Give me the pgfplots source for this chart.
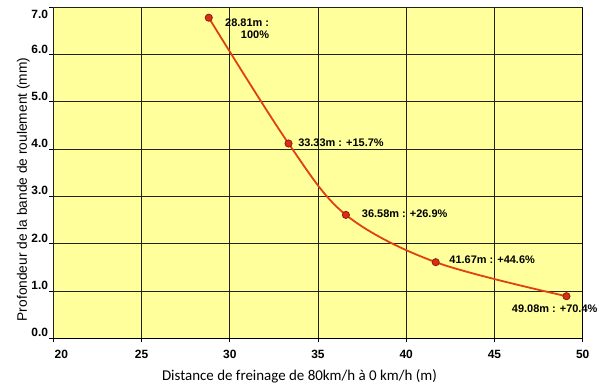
\documentclass[border=0pt]{standalone}
\usepackage{pgfplots}
\pgfplotsset{compat=1.18}
\usepackage{fontspec}
\setmainfont{Liberation Sans}
\newfontfamily\calibri{Carlito}
\definecolor{bgy}{RGB}{255,255,156}
\definecolor{curve}{RGB}{225,65,15}
\definecolor{mfill}{RGB}{220,45,20}
\definecolor{mdraw}{RGB}{140,30,10}
\definecolor{gridc}{RGB}{35,35,20}
\begin{document}
\begin{tikzpicture}
\path[use as bounding box] (-53.3bp,-47.7bp) rectangle (553.7bp,338.3bp);
\begin{axis}[
  scale only axis, width=529.4bp, height=331bp,
  xmin=20, xmax=50, ymin=0, ymax=7,
  xtick={25,30,...,50}, ytick={0,1,...,6},
  extra x ticks={20}, extra y ticks={7},
  extra x tick style={xticklabel style={xshift=8bp}},
  extra y tick style={yticklabel style={anchor=north east, yshift=-1bp}},
  axis background/.style={fill=bgy},
  grid=major, grid style={gridc, line width=1bp},
  axis line style={black, line width=1bp},
  tick align=outside, tick pos=left, major tick length=4bp,
  tick style={black, line width=0.8bp},
  /pgf/number format/assume math mode=true,
  yticklabel style={/pgf/number format/.cd, fixed, fixed zerofill, precision=1, /tikz/.cd, font=\bfseries\fontsize{12}{14}\selectfont, anchor=base east, inner xsep=1bp, yshift=1.5bp},
  xticklabel style={font=\bfseries\fontsize{12}{14}\selectfont, yshift=-4bp},
  clip=false,
  xlabel={\calibri\fontsize{15}{18}\selectfont Distance de freinage de 80km/h à 0 km/h (m)},
  ylabel={\fontsize{13.8}{16}\selectfont Profondeur de la bande de roulement (mm)},
  xlabel style={at={(axis description cs:0.465,0)}, anchor=north, yshift=-28bp},
  ylabel style={at={(axis description cs:0,0.45)}, anchor=south, yshift=20bp},
]
\addplot[curve, line width=1.8bp, smooth, tension=0.55, mark=*, mark size=3.6bp,
  mark options={fill=mfill, draw=mdraw, line width=0.8bp}]
  coordinates {(28.81,6.78) (33.33,4.12) (36.58,2.61) (41.67,1.61) (49.08,0.89)};
\begin{scope}[every node/.style={font=\bfseries\fontsize{11}{13}\selectfont, inner sep=0pt}]
\node[anchor=west] at (axis cs:29.73,6.67) {28.81m :};
\node at (axis cs:31.43,6.41) {100\%};
\node[anchor=west] at (axis cs:33.87,4.14) {33.33m : +15.7\%};
\node[anchor=west] at (axis cs:37.48,2.64) {36.58m : +26.9\%};
\node[anchor=west] at (axis cs:42.44,1.66) {41.67m : +44.6\%};
\node[anchor=west] at (axis cs:45.98,0.63) {49.08m : +70.4\%};
\end{scope}
\end{axis}
\end{tikzpicture}
\end{document}
